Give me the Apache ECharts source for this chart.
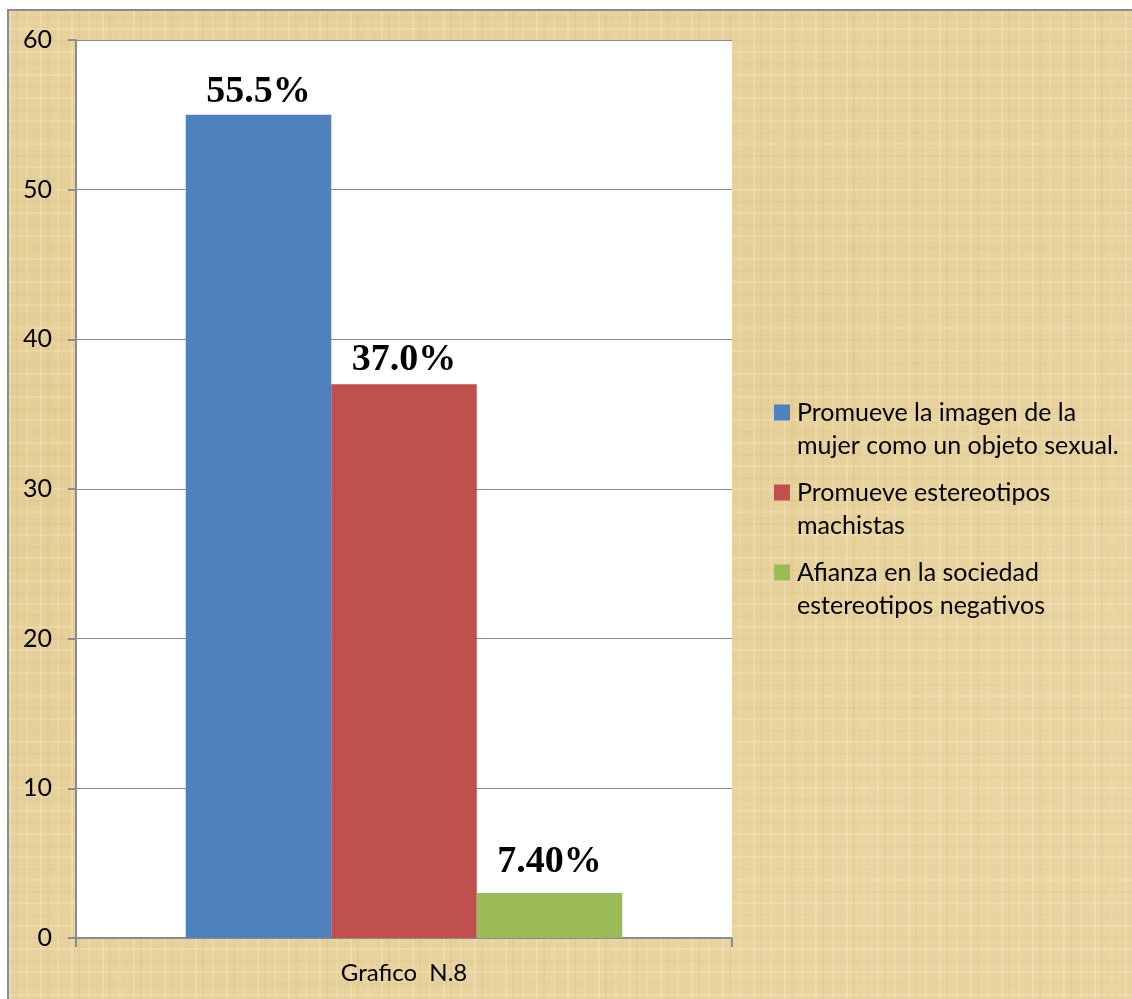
<!DOCTYPE html>
<html>
<head>
<meta charset="utf-8">
<script src="https://cdn.jsdelivr.net/npm/echarts@6/dist/echarts.min.js"></script>
<style>
html,body{margin:0;padding:0;background:#fff;width:1132px;height:999px;overflow:hidden;}
#frame{position:absolute;left:7px;top:9px;width:1200px;height:1100px;border:2px solid #8c8c8c;
background-color:#e7d29e;
background-image:
 repeating-linear-gradient(90deg, rgba(255,250,225,0.22) 0 2px, rgba(0,0,0,0) 2px 7px, rgba(170,130,50,0.07) 7px 9px, rgba(0,0,0,0) 9px 17px, rgba(255,245,210,0.15) 17px 19px, rgba(0,0,0,0) 19px 31px),
 repeating-linear-gradient(0deg, rgba(255,250,225,0.18) 0 2px, rgba(0,0,0,0) 2px 11px, rgba(170,130,50,0.06) 11px 13px, rgba(0,0,0,0) 13px 23px),
 radial-gradient(ellipse at 30% 40%, rgba(220,190,120,0.35), rgba(0,0,0,0) 60%),
 radial-gradient(ellipse at 80% 70%, rgba(240,220,170,0.35), rgba(0,0,0,0) 55%);
}
#chart{position:absolute;left:0;top:0;width:1132px;height:999px;}
</style>
</head>
<body>
<div id="frame"></div>
<div id="chart"></div>
<script>
// Data
var categories = ['Grafico  N.8'];
var seriesNames = [
  'Promueve la imagen de la mujer como un objeto sexual.',
  'Promueve estereotipos machistas',
  'Afianza en la sociedad estereotipos negativos'
];
var legendLines = [
  ['Promueve la imagen de la', 'mujer como un objeto sexual.'],
  ['Promueve estereotipos', 'machistas'],
  ['Afianza en la sociedad', 'estereotipos negativos']
];
var values = [55, 37, 3];
var valueLabels = ['55.5%', '37.0%', '7.40%'];
var colors = ['#4F81BD', '#C0504D', '#9BBB59'];
var labelDistances = [4, 5, 12];

var chart = echarts.init(document.getElementById('chart'), null, {renderer: 'canvas'});

var series = seriesNames.map(function (name, i) {
  return {
    name: name,
    type: 'bar',
    data: [values[i]],
    barWidth: 145.5,
    barGap: '0%',
    itemStyle: {color: colors[i]},
    label: {
      show: true,
      position: 'top',
      distance: labelDistances[i],
      formatter: function () { return valueLabels[i]; },
      fontFamily: 'Liberation Serif',
      fontWeight: 'bold',
      fontSize: 38,
      color: '#000'
    }
  };
});

var option = {
  backgroundColor: 'transparent',
  animation: false,
  color: colors,
  grid: {
    left: 76, top: 40, right: 400, bottom: 61,
    show: true, backgroundColor: '#ffffff', borderWidth: 0
  },
  legend: {
    orient: 'vertical',
    left: 774,
    top: 363,
    padding: 0,
    itemWidth: 16,
    itemHeight: 16,
    itemGap: -19,
    icon: 'rect',
    data: seriesNames,
    formatter: function (name) {
      var idx = seriesNames.indexOf(name);
      return '\n' + legendLines[idx].join('\n');
    },
    textStyle: {
      fontFamily: 'Lato',
      fontSize: 25,
      color: '#000',
      lineHeight: 33,
      padding: [0, 0, 0, 2]
    }
  },
  xAxis: {
    type: 'category',
    data: categories,
    boundaryGap: true,
    axisLine: {show: true, lineStyle: {color: '#8c8c8c', width: 2}},
    axisTick: {show: true, length: 9, alignWithLabel: false, lineStyle: {color: '#8c8c8c', width: 2}},
    axisLabel: {fontFamily: 'Lato', fontSize: 24, color: '#000', margin: 23}
  },
  yAxis: {
    type: 'value',
    min: 0, max: 60, interval: 10,
    axisLine: {show: true, lineStyle: {color: '#8c8c8c', width: 2}},
    axisTick: {show: true, length: 8, lineStyle: {color: '#8c8c8c', width: 2}},
    splitLine: {show: true, lineStyle: {color: '#8c8c8c', width: 1}},
    axisLabel: {fontFamily: 'Lato', fontSize: 25, color: '#000', margin: 24}
  },
  series: series
};
chart.setOption(option);
</script>
</body>
</html>
